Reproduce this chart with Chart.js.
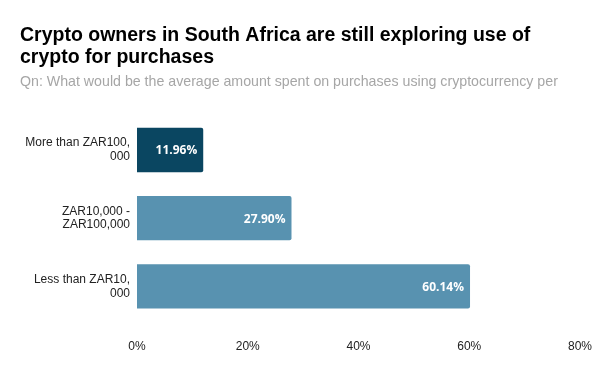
<!DOCTYPE html>
<html>
<head>
<meta charset="utf-8">
<script src="https://cdn.jsdelivr.net/npm/chart.js@4/dist/chart.umd.min.js"></script>
<style>
  html, body { margin: 0; padding: 0; background: #fff; }
  #wrap { width: 600px; height: 371px; }
</style>
</head>
<body>
<div id="wrap"><canvas id="cryptoChart" width="600" height="371"></canvas></div>
<script>
// data
const categories = [
  ['More than ZAR100,', '000'],
  ['ZAR10,000 -', 'ZAR100,000'],
  ['Less than ZAR10,', '000']
];
const shares = [11.96, 27.90, 60.14];
const barColors = ['#0a4661', '#5892b0', '#5892b0'];
const xTicks = [0, 20, 40, 60, 80];

// labels inside the bars
const valueLabels = {
  id: 'valueLabels',
  afterDatasetsDraw(chart) {
    const ctx = chart.ctx;
    const meta = chart.getDatasetMeta(0);
    ctx.save();
    ctx.font = 'bold 12px "Open Sans", sans-serif';
    ctx.fillStyle = '#ffffff';
    ctx.textAlign = 'right';
    ctx.textBaseline = 'middle';
    meta.data.forEach((bar, i) => {
      ctx.fillText(shares[i].toFixed(2) + '%', bar.x - 6, bar.y + 1);
    });
    ctx.restore();
  }
};

const ctx = document.getElementById('cryptoChart').getContext('2d');
new Chart(ctx, {
  type: 'bar',
  data: {
    labels: categories,
    datasets: [{
      data: shares,
      backgroundColor: barColors,
      borderWidth: 0,
      borderRadius: 2,
      categoryPercentage: 0.65,
      barPercentage: 1
    }]
  },
  options: {
    indexAxis: 'y',
    responsive: false,
    animation: false,
    layout: { padding: { left: 20, right: 20, top: 24, bottom: 0 } },
    plugins: {
      legend: { display: false },
      tooltip: { enabled: false },
      title: {
        display: true,
        align: 'start',
        text: ['Crypto owners in South Africa are still exploring use of', 'crypto for purchases'],
        color: '#000',
        font: { family: '"Liberation Sans", Arial, sans-serif', size: 19.5, weight: 'bold', lineHeight: 1.15 },
        padding: { top: 0, bottom: 5 }
      },
      subtitle: {
        display: true,
        align: 'start',
        text: 'Qn: What would be the average amount spent on purchases using cryptocurrency per',
        color: '#a6a6a6',
        font: { family: '"Liberation Sans", Arial, sans-serif', size: 14.2 },
        padding: { top: 0, bottom: 25 }
      }
    },
    scales: {
      x: {
        min: 0,
        max: 80,
        afterBuildTicks(scale) { scale.ticks = xTicks.map(v => ({ value: v })); },
        afterFit(scale) {
          scale.paddingRight = 0;
          scale.paddingLeft = 0;
          scale.height = 50.5;
        },
        grid: { display: false, drawTicks: false },
        border: { display: false },
        ticks: {
          padding: 18.5,
          color: '#222',
          font: { family: '"Liberation Sans", Arial, sans-serif', size: 12 },
          callback: v => v + '%'
        }
      },
      y: {
        grid: { display: false, drawTicks: false },
        border: { display: false },
        afterFit(scale) { scale.width = 117; },
        ticks: {
          padding: 7,
          color: '#222',
          font: { family: '"Liberation Sans", Arial, sans-serif', size: 12, lineHeight: 1.15 }
        }
      }
    }
  },
  plugins: [valueLabels]
});
</script>
</body>
</html>
